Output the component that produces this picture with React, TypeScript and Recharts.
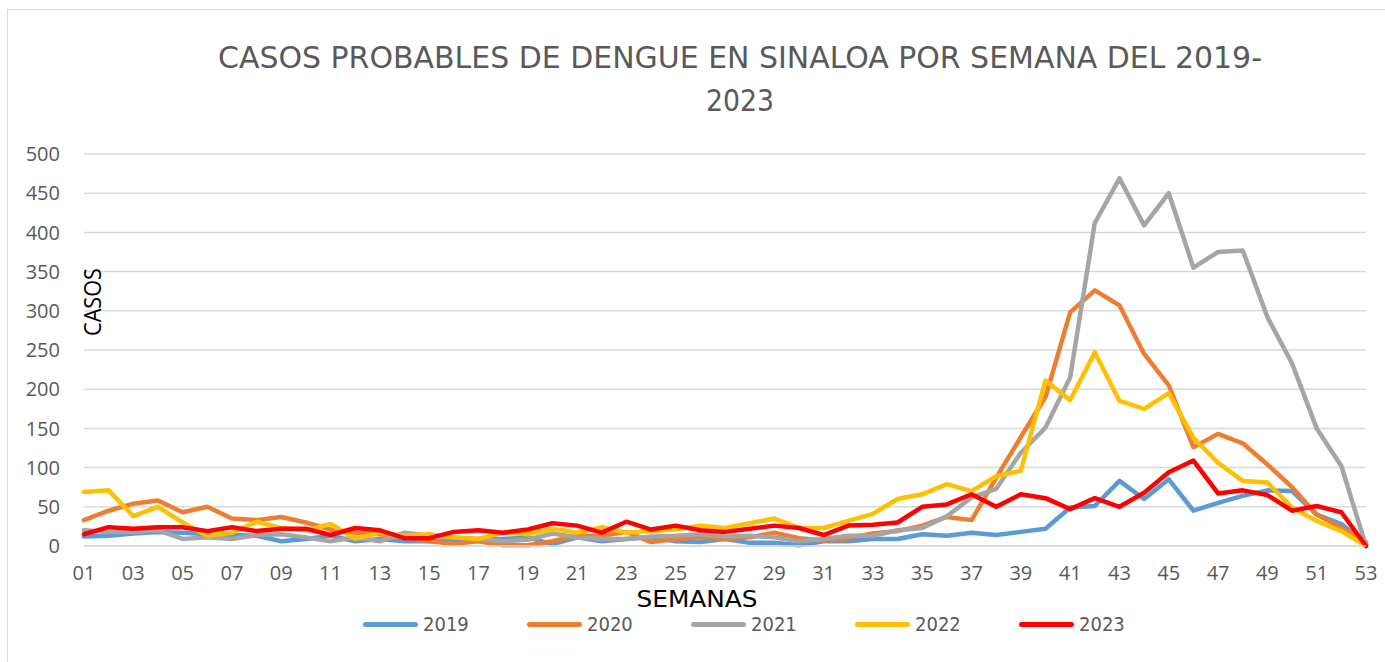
import React from 'react';
import { LineChart, Line, XAxis, YAxis, CartesianGrid, Legend } from 'recharts';

const semanas = Array.from({ length: 53 }, (_, i) => String(i + 1).padStart(2, '0'));

const casos2019 = [
  12, 13, 16, 18, 17, 15, 14, 13, 6, 9, 13, 6, 9, 6, 6, 6, 9, 9, 11, 2,
  11, 6, 9, 11, 6, 5, 9, 4, 4, 1, 6, 6, 9, 9, 15, 13, 17, 14, 18, 22,
  49, 51, 83, 60, 85, 45, 55, 64, 71, 70, 40, 28, 2,
];
const casos2020 = [
  33, 45, 54, 58, 43, 50, 35, 33, 37, 30, 21, 17, 15, 11, 6, 3, 6, 1, 1, 6,
  13, 13, 18, 5, 9, 11, 9, 11, 17, 10, 7, 10, 16, 19, 26, 37, 33, 87, 139, 190,
  298, 326, 307, 245, 205, 126, 143, 131, 104, 75, 40, 23, 5,
];
const casos2021 = [
  20, 18, 18, 20, 9, 11, 9, 14, 15, 11, 6, 11, 6, 17, 13, 11, 9, 6, 8, 16,
  11, 9, 9, 12, 13, 15, 12, 13, 11, 6, 9, 13, 13, 20, 23, 38, 62, 73, 119, 151,
  215, 412, 469, 409, 450, 355, 375, 377, 292, 233, 150, 102, 0,
];
const casos2022 = [
  69, 71, 38, 50, 30, 13, 17, 31, 23, 20, 28, 9, 17, 13, 15, 11, 9, 17, 15, 22,
  17, 24, 17, 19, 21, 26, 23, 29, 35, 23, 23, 32, 41, 60, 66, 79, 70, 89, 96, 211,
  186, 247, 185, 175, 195, 138, 106, 83, 81, 49, 32, 19, 0,
];
const casos2023 = [
  15, 24, 22, 24, 24, 19, 24, 19, 22, 22, 14, 23, 20, 10, 10, 18, 20, 17, 21, 29,
  26, 17, 31, 21, 26, 20, 18, 22, 26, 23, 14, 26, 27, 30, 50, 53, 66, 50, 66, 61,
  47, 61, 50, 68, 94, 109, 67, 71, 65, 45, 51, 43, 0,
];

const yTicks = [0, 50, 100, 150, 200, 250, 300, 350, 400, 450, 500];

const series = [
  { key: '2019', color: '#5B9BD5', values: casos2019 },
  { key: '2020', color: '#ED7D31', values: casos2020 },
  { key: '2021', color: '#A5A5A5', values: casos2021 },
  { key: '2022', color: '#FFC000', values: casos2022 },
  { key: '2023', color: '#FF0000', values: casos2023 },
];

const data = semanas.map((s, i) => {
  const row: Record<string, string | number> = { semana: s };
  series.forEach((se) => {
    row[se.key] = se.values[i];
  });
  return row;
});

const FONT = "'Open Sans', 'DejaVu Sans', sans-serif";
const NARROW = "'DejaVu Sans Condensed', 'Liberation Sans', sans-serif";

const renderLegend = () => (
  <div style={{ display: 'flex', paddingLeft: 363 }}>
    {series.map((se) => (
      <div key={se.key} style={{ width: 164, display: 'flex', alignItems: 'center' }}>
        <span style={{ width: 55, height: 5, borderRadius: 3, background: se.color, display: 'inline-block' }} />
        <span style={{ marginLeft: 5, fontFamily: NARROW, fontSize: 20, color: '#595959' }}>{se.key}</span>
      </div>
    ))}
  </div>
);

export default function App() {
  return (
    <div style={{ position: 'absolute', left: 0, top: 0, width: 1385, height: 662, background: '#fff', overflow: 'hidden' }}>
      <div style={{ position: 'absolute', left: 7, top: 9, width: 1400, height: 700, borderTop: '1.5px solid #d9d9d9', borderLeft: '1.5px solid #d9d9d9' }} />
      <LineChart width={1385} height={662} data={data} margin={{ top: 154, right: 19, bottom: 62, left: 0 }}>
        <CartesianGrid vertical={false} stroke="#d9d9d9" strokeWidth={1.5} />
        <XAxis
          dataKey="semana"
          interval={1}
          axisLine={{ stroke: '#d9d9d9', strokeWidth: 1.5 }}
          tickLine={false}
          tickSize={0}
          tickMargin={20}
          height={30}
          tick={{ fill: '#595959', fontSize: 20, fontFamily: FONT }}
        />
        <YAxis
          domain={[0, 500]}
          ticks={yTicks}
          width={84}
          axisLine={false}
          tickLine={false}
          tickSize={0}
          tickMargin={24}
          tick={{ fill: '#595959', fontSize: 20, fontFamily: FONT }}
        />
        <Legend verticalAlign="bottom" content={renderLegend} wrapperStyle={{ position: 'absolute', top: 612, left: 0, width: 1385 }} />
        {series.map((se) => (
          <Line
            key={se.key}
            type="linear"
            dataKey={se.key}
            stroke={se.color}
            strokeWidth={4.5}
            dot={false}
            isAnimationActive={false}
            strokeLinejoin="round"
            strokeLinecap="round"
          />
        ))}
      </LineChart>
      <svg width={1385} height={662} style={{ position: 'absolute', left: 0, top: 0, pointerEvents: 'none' }}>
        <text x={740} y={68} textAnchor="middle" fill="#595959" fontSize={30} fontFamily={NARROW} textLength={1044} lengthAdjust="spacingAndGlyphs">
          CASOS PROBABLES DE DENGUE EN SINALOA POR SEMANA DEL 2019-
        </text>
        <text x={740} y={111} textAnchor="middle" fill="#595959" fontSize={30} fontFamily={NARROW} textLength={68} lengthAdjust="spacingAndGlyphs">
          2023
        </text>
        <text x={101} y={302} transform="rotate(-90 101 302)" textAnchor="middle" fill="#000" fontSize={24} fontFamily={FONT} textLength={68} lengthAdjust="spacingAndGlyphs">
          CASOS
        </text>
        <text x={697} y={607} textAnchor="middle" fill="#000" fontSize={23} fontFamily={NARROW} textLength={121} lengthAdjust="spacingAndGlyphs">
          SEMANAS
        </text>
      </svg>
    </div>
  );
}
